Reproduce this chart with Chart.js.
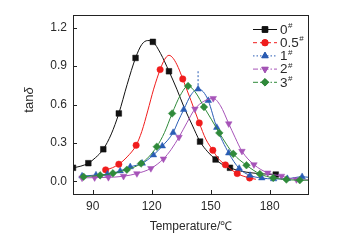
<!DOCTYPE html>
<html>
<head>
<meta charset="utf-8">
<script src="https://cdn.jsdelivr.net/npm/chart.js@4.4.1/dist/chart.umd.min.js"></script>
<style>
  html, body { margin: 0; padding: 0; background: #fff; }
  #wrap { width: 347px; height: 240px; position: relative; }
</style>
</head>
<body>
<div id="wrap"><canvas id="tan-chart"></canvas></div>
<script>
// tan delta vs temperature
const xTicks = [90, 120, 150, 180];
const yTicks = [0, 0.3, 0.6, 0.9, 1.2];

// 0#
const curveT0 = [80, 84, 87.8, 91.5, 95.4, 99.5, 103.3, 107.5, 111.8, 115, 118, 120.6, 124.5, 128.8, 132.8, 136.7, 140.6, 144.6, 148.5, 152.5, 156, 159.8, 165, 171, 177, 183.1];
const curveV0 = [0.105, 0.118, 0.141, 0.185, 0.25, 0.37, 0.53, 0.755, 0.964, 1.07, 1.10, 1.09, 1.0, 0.86, 0.72, 0.57, 0.44, 0.31, 0.23, 0.17, 0.13, 0.105, 0.08, 0.065, 0.057, 0.052];
const markT0 = [80, 87.8, 95.4, 103.3, 111.8, 120.6, 128.8, 144.6, 152.5, 159.8, 183.1];
const markV0 = [0.105, 0.141, 0.25, 0.53, 0.964, 1.09, 0.86, 0.31, 0.17, 0.105, 0.052];

// 0.5#
const curveT05 = [96.6, 100, 103.3, 107.5, 112.1, 115, 118, 121, 124.3, 126.5, 128.8, 131, 133.5, 135.8, 140, 144.2, 147.5, 151.1, 154, 157.5, 160.5, 163.5, 166.5, 169.8, 173];
const curveV05 = [0.089, 0.105, 0.133, 0.19, 0.281, 0.39, 0.55, 0.72, 0.873, 0.95, 0.985, 0.96, 0.89, 0.80, 0.63, 0.456, 0.33, 0.242, 0.175, 0.128, 0.09, 0.06, 0.04, 0.025, 0.015];
const markT05 = [96.6, 103.3, 112.1, 124.3, 135.8, 144.2, 151.1, 157.5, 163.5, 169.8];
const markV05 = [0.089, 0.133, 0.281, 0.873, 0.80, 0.456, 0.242, 0.128, 0.06, 0.025];

// 1#
const curveT1 = [84.6, 91.7, 97.5, 104, 109.1, 115.2, 120.9, 125.4, 130.9, 133.5, 136.3, 140, 143.6, 146.2, 148.8, 153.1, 159.2, 164.5, 170, 176, 182, 189, 196.5, 200];
const curveV1 = [0.04, 0.048, 0.055, 0.08, 0.112, 0.14, 0.205, 0.275, 0.38, 0.47, 0.56, 0.675, 0.722, 0.70, 0.63, 0.42, 0.22, 0.1, 0.045, 0.025, 0.018, 0.02, 0.035, 0.03];
const markT1 = [84.6, 91.7, 97.5, 104, 109.1, 115.2, 120.9, 125.4, 130.9, 136.3, 143.6, 148.8, 153.1, 159.2, 164.5, 170, 176, 182, 189, 196.5];
const markV1 = [0.04, 0.048, 0.055, 0.08, 0.112, 0.14, 0.205, 0.275, 0.38, 0.56, 0.72, 0.63, 0.42, 0.22, 0.1, 0.045, 0.025, 0.018, 0.02, 0.035];
const spikeT1 = [143.6, 143.6];
const spikeV1 = [0.72, 0.86];

// 2#
const curveT2 = [84.6, 91, 98, 105.7, 112.5, 119.6, 126, 130, 133.9, 138, 142, 146.5, 151.3, 155, 159.2, 162.5, 165.9, 172, 179, 186, 193.6, 200];
const curveV2 = [0.026, 0.028, 0.03, 0.039, 0.06, 0.1, 0.175, 0.25, 0.345, 0.46, 0.565, 0.625, 0.648, 0.59, 0.45, 0.34, 0.235, 0.13, 0.065, 0.04, 0.013, 0.01];
const markT2 = [84.6, 91, 98, 105.7, 112.5, 119.6, 126, 133.9, 142, 151.3, 159.2, 165.9, 172, 179, 186, 193.6];
const markV2 = [0.026, 0.028, 0.03, 0.039, 0.06, 0.1, 0.175, 0.345, 0.565, 0.648, 0.45, 0.235, 0.13, 0.065, 0.04, 0.013];

// 3#
const curveT3 = [85.4, 93.8, 100.3, 107.4, 114.6, 118.5, 122.6, 126.5, 130.4, 134.5, 138.5, 142.5, 146.6, 150.5, 154.4, 158, 161.5, 168.2, 175, 181.8, 188.5, 195.3, 200];
const curveV3 = [0.035, 0.046, 0.062, 0.09, 0.138, 0.19, 0.27, 0.38, 0.53, 0.67, 0.745, 0.69, 0.58, 0.48, 0.378, 0.29, 0.214, 0.125, 0.057, 0.026, 0.013, 0.008, 0.008];
const markT3 = [85.4, 93.8, 100.3, 107.4, 114.6, 122.6, 130.4, 138.5, 146.6, 154.4, 161.5, 168.2, 175, 181.8, 188.5, 195.3];
const markV3 = [0.035, 0.046, 0.062, 0.09, 0.138, 0.27, 0.53, 0.745, 0.58, 0.378, 0.214, 0.125, 0.057, 0.026, 0.013, 0.008];

const FONT = "'Liberation Sans', Arial, sans-serif";
const TEXT = '#2a2a2a';

const series = [
  { name: '0', color: '#111111', style: 'rect', radius: 4, rot: 0, dash: [], curveT: curveT0, curveV: curveV0, markT: markT0, markV: markV0 },
  { name: '0.5', color: '#f01c1c', style: 'circle', radius: 3.2, rot: 0, dash: [4, 3], curveT: curveT05, curveV: curveV05, markT: markT05, markV: markV05 },
  { name: '1', color: '#2a5db5', style: 'triangle', radius: 3.8, rot: 0, dash: [1.5, 2], curveT: curveT1, curveV: curveV1, markT: markT1, markV: markV1 },
  { name: '2', color: '#a653b8', style: 'triangle', radius: 3.8, rot: 180, dash: [5, 2, 1.5, 2], curveT: curveT2, curveV: curveV2, markT: markT2, markV: markV2 },
  { name: '3', color: '#2f8a3a', style: 'rectRot', radius: 3.8, rot: 0, dash: [5, 2, 1.5, 2], curveT: curveT3, curveV: curveV3, markT: markT3, markV: markV3 }
];

const zip = (xs, ys) => xs.map((x, i) => ({ x: x, y: ys[i] }));

const datasets = [];
series.forEach((s, i) => {
  datasets.push({
    label: s.name + '#',
    data: zip(s.curveT, s.curveV),
    showLine: true,
    borderColor: s.color,
    borderWidth: 1,
    pointRadius: 0,
    cubicInterpolationMode: 'monotone',
    order: 10 - i
  });
  datasets.push({
    label: s.name + '# markers',
    data: zip(s.markT, s.markV),
    showLine: false,
    pointStyle: s.style,
    pointRadius: s.radius,
    pointRotation: s.rot,
    pointBackgroundColor: s.color,
    pointBorderColor: s.color,
    pointBorderWidth: 0.5,
    order: 10 - i
  });
});
datasets.push({
  label: '1# spike',
  data: zip(spikeT1, spikeV1),
  showLine: true,
  borderColor: '#2a5db5',
  borderWidth: 1,
  borderDash: [2, 2],
  pointRadius: 0,
  order: 20
});

// frame, inward ticks, y title and legend
const decorPlugin = {
  id: 'decor',
  afterDatasetsDraw(chart) {
    const ctx = chart.ctx;
    const a = chart.chartArea;
    const xs = chart.scales.x;
    const ys = chart.scales.y;
    ctx.save();
    ctx.strokeStyle = '#222';
    ctx.lineWidth = 1;
    ctx.setLineDash([]);
    ctx.strokeRect(Math.round(a.left) + 0.5, Math.round(a.top) + 0.5, Math.round(a.right - a.left) - 1, Math.round(a.bottom - a.top));
    ctx.beginPath();
    xTicks.forEach(v => {
      const px = Math.round(xs.getPixelForValue(v)) + 0.5;
      ctx.moveTo(px, a.bottom);
      ctx.lineTo(px, a.bottom - 4);
    });
    yTicks.forEach(v => {
      const py = Math.round(ys.getPixelForValue(v)) + 0.5;
      ctx.moveTo(a.left, py);
      ctx.lineTo(a.left + 4, py);
    });
    ctx.stroke();

    // y title: tan + italic delta
    ctx.translate(29, 100);
    ctx.rotate(-Math.PI / 2);
    ctx.fillStyle = TEXT;
    ctx.textBaseline = 'middle';
    ctx.font = '13px ' + FONT;
    const w1 = ctx.measureText('tan').width;
    ctx.font = 'italic 13px ' + FONT;
    const w2 = ctx.measureText('δ').width;
    let x0 = -(w1 + w2) / 2;
    ctx.font = '13px ' + FONT;
    ctx.textAlign = 'left';
    ctx.fillText('tan', x0, 0);
    ctx.font = 'italic 13px ' + FONT;
    ctx.fillText('δ', x0 + w1, 0);
    ctx.restore();

    // legend
    ctx.save();
    series.forEach((s, i) => {
      const y = 29 + i * 13.2;
      ctx.strokeStyle = s.color;
      ctx.lineWidth = 1;
      ctx.setLineDash(s.dash);
      ctx.beginPath();
      ctx.moveTo(253, y + 0.5);
      ctx.lineTo(277, y + 0.5);
      ctx.stroke();
      ctx.setLineDash([]);
      Chart.helpers.drawPoint(ctx, {
        pointStyle: s.style, radius: s.radius, rotation: s.rot, borderWidth: 0.5
      }, 265, y + 0.5);
      ctx.fillStyle = s.color;
      ctx.fill();
      ctx.fillStyle = TEXT;
      ctx.textAlign = 'left';
      ctx.textBaseline = 'middle';
      ctx.font = '13.5px ' + FONT;
      ctx.fillText(s.name, 280, y + 1);
      const w = ctx.measureText(s.name).width;
      ctx.font = '8px ' + FONT;
      ctx.fillText('#', 280 + w + 0.5, y - 3);
    });
    ctx.restore();
  }
};

new Chart(document.getElementById('tan-chart').getContext('2d'), {
  type: 'scatter',
  data: { datasets: datasets },
  plugins: [decorPlugin],
  options: {
    responsive: true,
    maintainAspectRatio: false,
    animation: false,
    devicePixelRatio: 1,
    layout: { padding: { top: 15, right: 38, left: 0, bottom: 0 } },
    plugins: { legend: { display: false }, tooltip: { enabled: false } },
    scales: {
      x: {
        type: 'linear',
        min: 80,
        max: 200,
        afterFit: (s) => { s.height = 46; },
        afterBuildTicks: (s) => { s.ticks = xTicks.map(v => ({ value: v })); },
        grid: { display: false, drawTicks: false },
        border: { display: false },
        ticks: { color: TEXT, font: { family: FONT, size: 12 }, padding: 5, maxRotation: 0 },
        title: { display: true, text: 'Temperature/℃', color: TEXT, font: { family: FONT, size: 12 }, padding: { top: 0, bottom: 6 } }
      },
      y: {
        type: 'linear',
        min: -0.1,
        max: 1.3,
        afterFit: (s) => { s.width = 73; },
        afterBuildTicks: (s) => { s.ticks = yTicks.map(v => ({ value: v })); },
        grid: { display: false, drawTicks: false },
        border: { display: false },
        ticks: { color: TEXT, font: { family: FONT, size: 12 }, padding: 6, callback: (v) => v.toFixed(1) }
      }
    }
  }
});
</script>
</body>
</html>
